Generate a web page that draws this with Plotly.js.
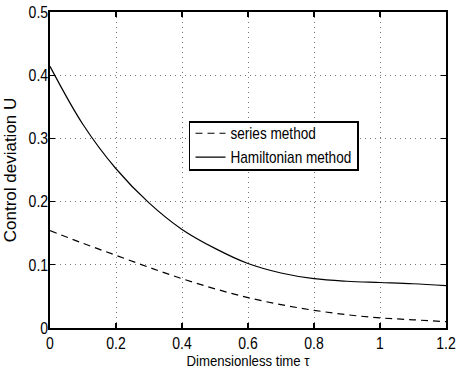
<!DOCTYPE html>
<html>
<head>
<meta charset="utf-8">
<script src="https://cdn.plot.ly/plotly-3.0.1.min.js"></script>
<style>html,body{margin:0;padding:0;background:#fff;}#chart{width:458px;height:373px;}</style>
</head>
<body>
<div id="chart"></div>
<script>
var tau = [0, 0.1, 0.2, 0.3, 0.4, 0.5, 0.6, 0.7, 0.8, 0.9, 1.0, 1.1, 1.2];
var seriesMethod = [0.154, 0.134, 0.115, 0.096, 0.078, 0.062, 0.048, 0.037, 0.028, 0.021, 0.016, 0.013, 0.010];
var hamiltonianMethod = [0.414, 0.322, 0.252, 0.198, 0.156, 0.126, 0.102, 0.087, 0.078, 0.074, 0.072, 0.070, 0.067];
var xTicks = [0, 0.2, 0.4, 0.6, 0.8, 1, 1.2];
var xTickText = ['0', '0.2', '0.4', '0.6', '0.8', '1', '1.2'];
var yTicks = [0, 0.1, 0.2, 0.3, 0.4, 0.5];
var yTickText = ['0', '0.1', '0.2', '0.3', '0.4', '0.5'];

var REG = 'Liberation Sans, Arial, sans-serif';
var SQ = 0.85;

var traces = [
  {x: tau, y: seriesMethod, name: 'series method', mode: 'lines', line: {color: '#000', width: 1.2, dash: '7px,5px', shape: 'spline', smoothing: 1}},
  {x: tau, y: hamiltonianMethod, name: 'Hamiltonian method', mode: 'lines', line: {color: '#000', width: 1.2, shape: 'spline', smoothing: 1}}
];
var axisCommon = {
  showline: true, linecolor: '#000', linewidth: 1.6, mirror: 'allticks',
  ticks: 'inside', ticklen: 5, tickcolor: '#000', tickwidth: 1.2,
  showgrid: true, gridcolor: '#777', griddash: '1px,4px', gridwidth: 1,
  zeroline: false,
  tickfont: {family: REG, size: 16.5, color: '#000'}
};
var layout = {
  width: 458, height: 373,
  margin: {l: 50, r: 12, t: 12, b: 45},
  paper_bgcolor: '#fff', plot_bgcolor: '#fff',
  showlegend: true,
  legend: {x: 0.351, y: 0.652, xanchor: 'left', yanchor: 'top', bordercolor: '#000', borderwidth: 1.5, bgcolor: '#fff',
    font: {family: REG, size: 16, color: '#000'}, tracegroupgap: 0},
  xaxis: Object.assign({}, axisCommon, {range: [0, 1.2], tickvals: xTicks, ticktext: xTickText,
    title: {text: 'Dimensionless time τ', standoff: 0, font: {family: REG, size: 15.5, color: '#000'}}}),
  yaxis: Object.assign({}, axisCommon, {range: [0, 0.5], tickvals: yTicks, ticktext: yTickText, ticklabelstandoff: -3,
    title: {text: 'Control deviation U', standoff: 4, font: {family: REG, size: 17, color: '#000'}}})
};

function squeeze(sel, mode) {
  var maxW = 0;
  document.querySelectorAll(sel).forEach(function (t) {
    try {
      var b = t.getBBox();
      var ax = mode === 'end' ? b.x + b.width : (mode === 'start' ? b.x : b.x + b.width / 2);
      var tr = t.getAttribute('transform') || '';
      t.setAttribute('transform', tr + ' translate(' + ax + ',0) scale(' + SQ + ',1) translate(' + (-ax) + ',0)');
      if (b.width > maxW) maxW = b.width;
    } catch (e) {}
  });
  return maxW;
}

Plotly.newPlot('chart', traces, layout, {displayModeBar: false, staticPlot: true}).then(function () {
  squeeze('.xtick text', 'middle');
  squeeze('.ytick text', 'end');
  squeeze('.xtitle', 'middle');
  var w = squeeze('.legendtext', 'start');
  try {
    var leg = document.querySelector('.legend');
    var bg = leg.querySelector('rect.bg');
    var ow = parseFloat(bg.getAttribute('width'));
    bg.setAttribute('width', ow - w * (1 - SQ));
    var top = Infinity, bot = -Infinity;
    leg.querySelectorAll('.legendtext').forEach(function (t) {
      var r = t.getBoundingClientRect();
      if (r.top < top) top = r.top;
      if (r.bottom > bot) bot = r.bottom;
    });
    var bgR = bg.getBoundingClientRect();
    var mid = (top + bot) / 2;
    var newTop = mid - 24, newBot = mid + 24;
    var oy = parseFloat(bg.getAttribute('y') || 0);
    bg.setAttribute('y', oy + (newTop - bgR.top));
    bg.setAttribute('height', newBot - newTop);
    var dy = 122 - newTop;
    leg.setAttribute('transform', (leg.getAttribute('transform') || '') + ' translate(0,' + dy + ')');
  } catch (e) {}
});
</script>
</body>
</html>
